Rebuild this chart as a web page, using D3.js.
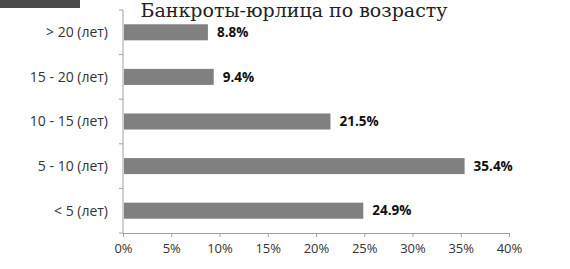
<!DOCTYPE html>
<html>
<head>
<meta charset="utf-8">
<script src="https://cdn.jsdelivr.net/npm/d3@7"></script>
<style>
  body { margin: 0; background: #fff; }
  text { font-family: "Open Sans", sans-serif; }
</style>
</head>
<body>
<div id="chart"></div>
<script>
// data
const categories = ["> 20 (лет)", "15 - 20 (лет)", "10 - 15 (лет)", "5 - 10 (лет)", "< 5 (лет)"];
const shares = [8.8, 9.4, 21.5, 35.4, 24.9];
const xTicks = [0, 5, 10, 15, 20, 25, 30, 35, 40];
const title = "Банкроты-юрлица по возрасту";

const width = 570;
const height = 269;

const svg = d3.select("#chart")
  .append("svg")
  .attr("width", width)
  .attr("height", height);

// dark strip in the top-left corner of the original scan
svg.append("rect")
  .attr("x", 0).attr("y", 0)
  .attr("width", 80).attr("height", 8)
  .attr("fill", "#4a4a4a");

const x = d3.scaleLinear().domain([0, 40]).range([123, 509]);
const y = d3.scaleBand().domain(categories).range([10, 233]).paddingInner(0.64).paddingOuter(0.32);

svg.append("text")
  .attr("x", 294)
  .attr("y", 17)
  .attr("text-anchor", "middle")
  .style("font-family", "'DejaVu Serif', serif")
  .style("font-size", "19px")
  .attr("fill", "#222")
  .text(title);

// x axis
const xAxis = svg.append("g")
  .attr("transform", "translate(0,233)")
  .call(d3.axisBottom(x).tickValues(xTicks).tickFormat(d => d + "%").tickSize(4));
xAxis.select(".domain").attr("stroke", "#a0a0a0");
xAxis.selectAll(".tick line").attr("stroke", "#a0a0a0");
xAxis.selectAll(".tick text")
  .attr("y", 11)
  .style("font-size", "13px")
  .attr("fill", "#333");

// y axis with ticks between the bands
const yAxis = svg.append("g").attr("transform", "translate(123,0)");
yAxis.append("line")
  .attr("y1", 10).attr("y2", 233)
  .attr("stroke", "#a0a0a0");
yAxis.selectAll("line.sep")
  .data(d3.range(0, categories.length + 1))
  .enter()
  .append("line")
  .attr("class", "sep")
  .attr("x1", -4).attr("x2", 0)
  .attr("y1", i => 10 + i * (223 / categories.length))
  .attr("y2", i => 10 + i * (223 / categories.length))
  .attr("stroke", "#a0a0a0");

svg.append("g")
  .selectAll("text")
  .data(categories)
  .enter()
  .append("text")
  .attr("x", 108)
  .attr("y", d => y(d) + y.bandwidth() / 2)
  .attr("dy", "0.35em")
  .attr("text-anchor", "end")
  .style("font-size", "14px")
  .attr("fill", "#333")
  .text(d => d);

// bars
svg.append("g")
  .selectAll("rect")
  .data(shares)
  .enter()
  .append("rect")
  .attr("x", x(0) + 1)
  .attr("y", (d, i) => y(categories[i]))
  .attr("width", d => x(d) - x(0) - 1)
  .attr("height", y.bandwidth())
  .attr("fill", "#808080");

// value labels
svg.append("g")
  .selectAll("text")
  .data(shares)
  .enter()
  .append("text")
  .attr("x", d => x(d) + 9)
  .attr("y", (d, i) => y(categories[i]) + y.bandwidth() / 2)
  .attr("dy", "0.35em")
  .style("font-size", "13.5px")
  .style("font-weight", "bold")
  .attr("fill", "#111")
  .text(d => d.toFixed(1) + "%");
</script>
</body>
</html>
